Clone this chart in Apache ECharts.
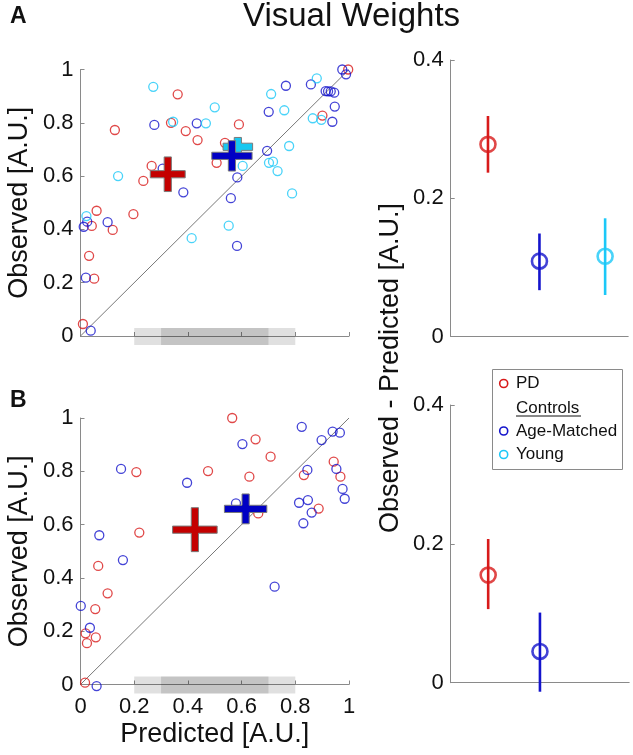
<!DOCTYPE html>
<html><head><meta charset="utf-8">
<script src="https://cdn.jsdelivr.net/npm/echarts@6/dist/echarts.min.js"></script>
<style>html,body{margin:0;padding:0;background:#fff}#c{width:633px;height:755px}</style>
</head><body><div id="c"></div>
<script>
// ---------- data ----------
// Panel A scatter (Predicted, Observed)
const pdA = [[0.362,0.907],[0.128,0.773],[0.337,0.800],[0.392,0.769],[0.436,0.735],[0.265,0.638],[0.234,0.582],[0.060,0.470],[0.197,0.457],[0.042,0.413],[0.120,0.398],[0.032,0.301],[0.051,0.215],[0.009,0.045],[0.997,1.000],[0.901,0.827],[0.590,0.794],[0.538,0.725],[0.507,0.650]];
const amA = [[0.275,0.792],[0.433,0.798],[0.306,0.628],[0.383,0.539],[0.101,0.427],[0.025,0.429],[0.012,0.410],[0.020,0.219],[0.038,0.020],[0.583,0.338],[0.560,0.517],[0.975,1.000],[0.989,0.982],[0.765,0.939],[0.858,0.944],[0.913,0.919],[0.922,0.918],[0.932,0.918],[0.945,0.913],[0.947,0.861],[0.701,0.841],[0.938,0.804],[0.695,0.695],[0.584,0.595]];
const youngA = [[0.271,0.935],[0.345,0.804],[0.140,0.600],[0.022,0.450],[0.414,0.367],[0.552,0.414],[0.880,0.967],[0.710,0.908],[0.500,0.858],[0.759,0.847],[0.865,0.817],[0.897,0.811],[0.467,0.798],[0.604,0.638],[0.777,0.713],[0.702,0.650],[0.717,0.654],[0.734,0.619],[0.788,0.535]];
// Panel B scatter
const pdB = [[0.208,0.797],[0.219,0.570],[0.565,1.000],[0.652,0.920],[0.708,0.855],[0.475,0.801],[0.629,0.780],[0.943,0.836],[0.968,0.780],[0.832,0.786],[0.887,0.660],[0.662,0.642],[0.066,0.445],[0.101,0.342],[0.055,0.283],[0.019,0.192],[0.057,0.177],[0.024,0.155],[0.017,0.007]];
const amB = [[0.151,0.809],[0.397,0.757],[0.070,0.560],[0.824,0.967],[0.898,0.917],[0.939,0.949],[0.966,0.945],[0.603,0.902],[0.953,0.809],[0.976,0.734],[0.984,0.697],[0.845,0.805],[0.814,0.682],[0.847,0.692],[0.861,0.645],[0.830,0.605],[0.579,0.680],[0.158,0.467],[0.001,0.295],[0.035,0.213],[0.060,-0.006],[0.723,0.367]];
// identity line and shaded predicted ranges
const diag = [[0,0],[1,1]];
const bandOuter = [0.2, 0.8];
const bandInner = [0.3, 0.7];
// group means: [meanX, meanY, errX, errY]
const crossA_PD = [0.325, 0.607, 0.065, 0.065];
const crossA_Y  = [0.586, 0.710, 0.055, 0.035];
const crossA_AM = [0.564, 0.676, 0.075, 0.057];
const crossB_PD = [0.426, 0.581, 0.083, 0.0825];
const crossB_AM = [0.615, 0.659, 0.079, 0.056];
// Observed - Predicted summary
const groupNames = ['PD', 'Age-Matched', 'Young'];
const groupX = [0.21, 0.50, 0.87];
const diffA_mean = [0.278, 0.109, 0.116];
const diffA_lo   = [0.237, 0.067, 0.060];
const diffA_hi   = [0.319, 0.149, 0.171];
const diffB_mean = [0.155, 0.045];
const diffB_lo   = [0.106, -0.013];
const diffB_hi   = [0.207, 0.101];
const scatterTicks = [0, 0.2, 0.4, 0.6, 0.8, 1];
const diffTicks = [0, 0.2, 0.4];

// ---------- style ----------
const RED = '#d81a1a', BLUE = '#1414cc', CYAN = '#1cc8f8';
const groupColors = [RED, BLUE, CYAN];
const FONT = '"Liberation Sans", Arial, sans-serif';
const AXC = '#8a8a8a';

const chart = echarts.init(document.getElementById('c'), null, {renderer: 'canvas'});

function mkX(grid, showLabels, name, ticks) {
  return {
    gridIndex: grid, type: 'value', min: ticks ? ticks[0] : 0, max: ticks ? ticks[ticks.length-1] : 1,
    interval: ticks ? ticks[1] - ticks[0] : 1,
    axisLine: {show: true, onZero: false, lineStyle: {color: AXC, width: 1}},
    axisTick: {show: !!ticks, inside: true, length: 4, lineStyle: {color: AXC}},
    axisLabel: {show: showLabels, fontSize: 22, color: '#111', fontFamily: FONT, margin: 11},
    splitLine: {show: false},
    name: name || '', nameLocation: 'middle', nameGap: 37,
    nameTextStyle: {fontSize: 27, color: '#111', fontFamily: FONT}
  };
}
function mkY(grid, ticks, name) {
  return {
    gridIndex: grid, type: 'value', min: ticks[0], max: ticks[ticks.length-1], interval: ticks[1] - ticks[0],
    axisLine: {show: true, onZero: false, lineStyle: {color: AXC, width: 1}},
    axisTick: {show: true, inside: true, length: 4, lineStyle: {color: AXC}},
    axisLabel: {show: true, fontSize: 22, color: '#111', fontFamily: FONT, margin: 7},
    splitLine: {show: false},
    name: name || '', nameLocation: 'middle', nameRotate: 90, nameGap: 47,
    nameTextStyle: {fontSize: 27, color: '#111', fontFamily: FONT}
  };
}

function scatterSeries(name, data, color, grid) {
  return {
    name: name, type: 'scatter', xAxisIndex: grid, yAxisIndex: grid, data: data,
    symbol: 'circle', symbolSize: 9, clip: false, z: 3,
    itemStyle: {color: 'rgba(0,0,0,0)', borderColor: color, borderWidth: 1.3},
    emphasis: {disabled: true}
  };
}
function bandSeries(grid) {
  return {
    type: 'custom', xAxisIndex: grid, yAxisIndex: grid, z: 1, silent: true, clip: false,
    data: [bandOuter, bandInner],
    encode: {x: [0, 1]},
    renderItem: function (params, api) {
      const a = api.coord([api.value(0), 0]);
      const b = api.coord([api.value(1), 0]);
      return {type: 'rect', shape: {x: a[0], y: a[1] - 8, width: b[0] - a[0], height: 17},
        style: {fill: 'rgba(0,0,0,0.12)'}};
    }
  };
}
function diagSeries(grid) {
  return {type: 'line', xAxisIndex: grid, yAxisIndex: grid, data: diag, symbol: 'none', z: 2,
    lineStyle: {color: '#555', width: 0.8}, silent: true};
}
function crossSeries(cross, color, grid, z) {
  return {
    type: 'custom', xAxisIndex: grid, yAxisIndex: grid, z: z, clip: false, silent: true,
    data: [cross], encode: {x: 0, y: 1},
    itemStyle: {color: color},
    renderItem: function (params, api) {
      const x = api.value(0), y = api.value(1), ex = api.value(2), ey = api.value(3);
      const c = api.coord([x, y]);
      const l = api.coord([x - ex, y])[0], r = api.coord([x + ex, y])[0];
      const t = api.coord([x, y + ey])[1], b = api.coord([x, y - ey])[1];
      const h = 3.6;
      const pts = [[c[0]-h,t],[c[0]+h,t],[c[0]+h,c[1]-h],[r,c[1]-h],[r,c[1]+h],[c[0]+h,c[1]+h],
        [c[0]+h,b],[c[0]-h,b],[c[0]-h,c[1]+h],[l,c[1]+h],[l,c[1]-h],[c[0]-h,c[1]-h]];
      return {type: 'polygon', shape: {points: pts},
        style: {fill: color, stroke: '#7a7a7a', lineWidth: 1}};
    }
  };
}
function errSeries(mean, lo, hi, grid) {
  const data = mean.map((m, i) => ({value: [groupX[i], lo[i], hi[i]], itemStyle: {color: groupColors[i]}}));
  return {
    type: 'custom', xAxisIndex: grid, yAxisIndex: grid, z: 3, clip: false, silent: true,
    data: data, encode: {x: 0, y: [1, 2]},
    renderItem: function (params, api) {
      const a = api.coord([api.value(0), api.value(1)]);
      const b = api.coord([api.value(0), api.value(2)]);
      return {type: 'line', shape: {x1: a[0], y1: a[1], x2: b[0], y2: b[1]},
        style: {stroke: api.visual('color'), lineWidth: 2.6}};
    }
  };
}
function meanSeries(mean, grid) {
  const data = mean.map((m, i) => ({name: groupNames[i], value: [groupX[i], m],
    itemStyle: {color: 'rgba(0,0,0,0)', borderColor: groupColors[i], borderWidth: 2.6}}));
  return {type: 'scatter', xAxisIndex: grid, yAxisIndex: grid, data: data, symbol: 'circle',
    symbolSize: 15, z: 4, clip: false, emphasis: {disabled: true}};
}

const legendItems = [
  {label: 'PD', color: RED, y: 383.5},
  {label: 'Controls', color: null, y: 408},
  {label: 'Age-Matched', color: BLUE, y: 431},
  {label: 'Young', color: CYAN, y: 454.5}
];
const legendGraphics = [{type: 'rect', shape: {x: 492.5, y: 369.5, width: 130, height: 100},
  style: {fill: '#fff', stroke: '#8a8a8a', lineWidth: 1}, z: 10}];
legendItems.forEach(it => {
  if (it.color) legendGraphics.push({type: 'circle', shape: {cx: 503.7, cy: it.y, r: 4},
    style: {fill: 'none', stroke: it.color, lineWidth: 1.6}, z: 11});
  legendGraphics.push({type: 'text', x: 516, y: it.y, z: 11,
    style: {text: it.label, font: '17px ' + FONT, fill: '#111', textVerticalAlign: 'middle', textAlign: 'left'}});
});
legendGraphics.push({type: 'line', shape: {x1: 516, y1: 416, x2: 581, y2: 416},
  style: {stroke: '#111', lineWidth: 1}, z: 11});

const option = {
  animation: false,
  backgroundColor: '#fff',
  title: {text: 'Visual Weights', left: 243, top: 0, padding: 0,
    textStyle: {fontSize: 33, fontWeight: 'normal', color: '#111', fontFamily: FONT}},
  grid: [
    {left: 80.5, top: 69.5, width: 268.5, height: 266.5},
    {left: 80.5, top: 418, width: 268.5, height: 266.5},
    {left: 450.7, top: 60, width: 177.5, height: 276.5},
    {left: 450.7, top: 405, width: 178.5, height: 277.7}
  ],
  xAxis: [
    mkX(0, false, '', scatterTicks),
    mkX(1, true, 'Predicted [A.U.]', scatterTicks),
    mkX(2, false, '', null),
    mkX(3, false, '', null)
  ],
  yAxis: [
    mkY(0, scatterTicks, 'Observed [A.U.]'),
    mkY(1, scatterTicks, 'Observed [A.U.]'),
    mkY(2, diffTicks, ''),
    mkY(3, diffTicks, '')
  ],
  series: [
    bandSeries(0), bandSeries(1), diagSeries(0), diagSeries(1),
    scatterSeries('PD', pdA, RED, 0),
    scatterSeries('Age-Matched', amA, BLUE, 0),
    scatterSeries('Young', youngA, CYAN, 0),
    scatterSeries('PD', pdB, RED, 1),
    scatterSeries('Age-Matched', amB, BLUE, 1),
    crossSeries(crossA_PD, '#c40000', 0, 5),
    crossSeries(crossA_Y, '#18c8f0', 0, 5),
    crossSeries(crossA_AM, '#0000c4', 0, 6),
    crossSeries(crossB_PD, '#c40000', 1, 5),
    crossSeries(crossB_AM, '#0000c4', 1, 6),
    errSeries(diffA_mean, diffA_lo, diffA_hi, 2),
    meanSeries(diffA_mean, 2),
    errSeries(diffB_mean, diffB_lo, diffB_hi, 3),
    meanSeries(diffB_mean, 3)
  ],
  graphic: [
    {type: 'text', x: 10, y: 17, style: {text: 'A', font: 'bold 23px ' + FONT, fill: '#111', textVerticalAlign: 'middle'}},
    {type: 'text', x: 10, y: 401, style: {text: 'B', font: 'bold 23px ' + FONT, fill: '#111', textVerticalAlign: 'middle'}},
    {type: 'text', x: 391, y: 368, rotation: Math.PI / 2,
      style: {text: 'Observed - Predicted [A.U.]', font: '27px ' + FONT, fill: '#111', textAlign: 'center', textVerticalAlign: 'middle'}}
  ].concat(legendGraphics)
};
chart.setOption(option);
</script></body></html>
